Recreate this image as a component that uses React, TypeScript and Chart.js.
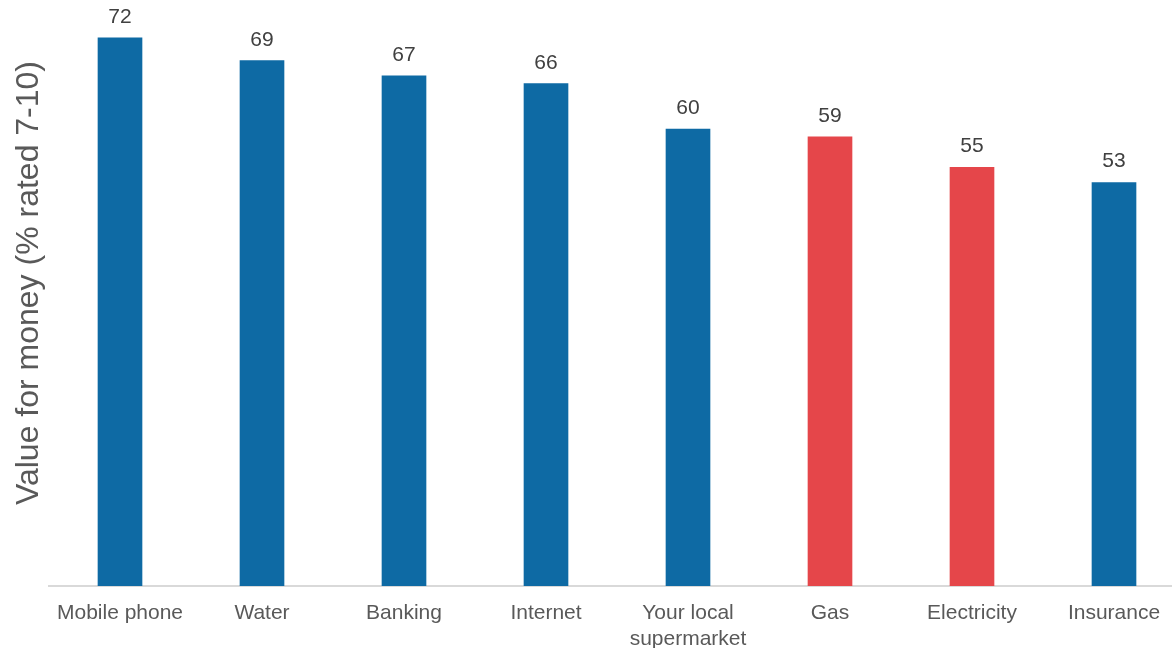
import React, { useEffect, useRef } from "react";
import { Chart, registerables } from "chart.js";

Chart.register(...registerables);

const categories: (string | string[])[] = [
  "Mobile phone",
  "Water",
  "Banking",
  "Internet",
  ["Your local", "supermarket"],
  "Gas",
  "Electricity",
  "Insurance",
];
const values: number[] = [72, 69, 67, 66, 60, 59, 55, 53];
const highlighted: boolean[] = [false, false, false, false, false, true, true, false];
const yTitle = "Value for money (% rated 7-10)";

const BLUE = "#0E6AA4";
const RED = "#E5464A";
const FONT = "'Liberation Sans', Arial, sans-serif";

const labelPlugin = {
  id: "valueLabels",
  afterDatasetsDraw(chart: any) {
    const ctx = chart.ctx;
    const meta = chart.getDatasetMeta(0);
    ctx.save();
    ctx.font = `21px ${FONT}`;
    ctx.fillStyle = "#404040";
    ctx.textAlign = "center";
    ctx.textBaseline = "alphabetic";
    meta.data.forEach((bar: any, i: number) => {
      ctx.fillText(String(values[i]), bar.x, bar.y - 15);
    });
    ctx.restore();
  },
};

const titlePlugin = {
  id: "yTitle",
  afterDraw(chart: any) {
    const ctx = chart.ctx;
    ctx.save();
    ctx.font = `32px ${FONT}`;
    ctx.fillStyle = "#595959";
    ctx.textAlign = "center";
    ctx.textBaseline = "alphabetic";
    ctx.translate(38, 283);
    ctx.rotate(-Math.PI / 2);
    ctx.fillText(yTitle, 0, 0);
    ctx.restore();
  },
};

export default function App() {
  const ref = useRef<HTMLCanvasElement | null>(null);

  useEffect(() => {
    if (!ref.current) return;
    const chart = new Chart(ref.current, {
      type: "bar",
      data: {
        labels: categories,
        datasets: [
          {
            data: values,
            backgroundColor: highlighted.map((h) => (h ? RED : BLUE)),
            barThickness: 44,
          },
        ],
      },
      options: {
        animation: false,
        responsive: false,
        devicePixelRatio: 1,
        layout: { padding: { left: 49, right: 5, top: 15, bottom: 0 } },
        plugins: {
          legend: { display: false },
          tooltip: { enabled: false },
        },
        scales: {
          x: {
            type: "category",
            grid: { display: false, drawTicks: false },
            border: { display: true, color: "#d9d9d9", width: 2 },
            ticks: {
              font: { family: FONT, size: 21 },
              color: "#595959",
              padding: 15,
              maxRotation: 0,
              autoSkip: false,
            },
            afterFit: (s: any) => {
              s.height = 62;
            },
          },
          y: {
            display: false,
            min: 0,
            max: 75,
          },
        },
      },
      plugins: [labelPlugin, titlePlugin],
    });
    return () => chart.destroy();
  }, []);

  return (
    <div
      style={{
        position: "fixed",
        left: 0,
        top: 0,
        width: 1172,
        height: 648,
        overflow: "hidden",
        background: "#fff",
      }}
    >
      <canvas ref={ref} width={1190} height={648} style={{ display: "block" }} />
    </div>
  );
}
